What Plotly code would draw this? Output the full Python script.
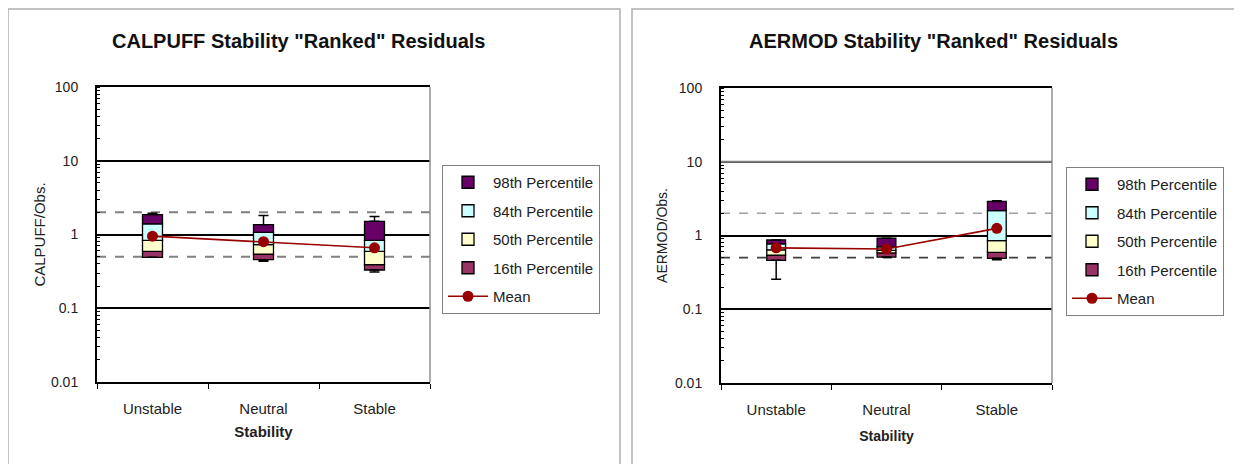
import plotly.graph_objects as go

# ---------------- data ----------------
categories = ["Unstable", "Neutral", "Stable"]

# CALPUFF ranked residual percentiles (ratio model/obs)
calpuff_min = [0.49, 0.435, 0.31]
calpuff_p02 = [0.49, 0.455, 0.33]
calpuff_p16 = [0.59, 0.54, 0.39]
calpuff_p50 = [0.83, 0.73, 0.59]
calpuff_p84 = [1.39, 1.07, 0.83]
calpuff_p98 = [1.86, 1.36, 1.51]
calpuff_max = [1.94, 1.81, 1.75]
calpuff_mean = [0.95, 0.80, 0.66]

# AERMOD ranked residual percentiles
aermod_min = [0.256, 0.51, 0.47]
aermod_p02 = [0.46, 0.51, 0.49]
aermod_p16 = [0.54, 0.58, 0.59]
aermod_p50 = [0.64, 0.63, 0.85]
aermod_p84 = [0.77, 0.70, 2.17]
aermod_p98 = [0.87, 0.92, 2.90]
aermod_max = [0.87, 0.92, 2.95]
aermod_mean = [0.68, 0.655, 1.25]

factor_lines = [2, 0.5]
y_tickvals = [0.01, 0.1, 1, 10, 100]
y_ticktext = ["0.01", "0.1", "1", "10", "100"]

seg_names = ["16th Percentile", "50th Percentile", "84th Percentile", "98th Percentile"]
seg_colors = ["#993366", "#FFFFCC", "#CCFFFF", "#660066"]
seg_rank = [4, 3, 2, 1]

FONT = "Liberation Sans, Arial, sans-serif"
OFF = 8  # page body margin
W, H = 1242 - OFF, 464 - OFF


def px(x):
    return (x - OFF) / W


def py(y):
    return 1 - (y - OFF) / H


fig = go.Figure()


def add_model(xa, ya, legend, key, lo, p16, p50, p84, p98, vmin, vmax, mean, bw):
    edges = [lo, p16, p50, p84, p98]
    for i in range(4):
        low = edges[i]
        up = edges[i + 1]
        fig.add_trace(go.Bar(
            x=categories, base=low, y=[u - l for u, l in zip(up, low)],
            width=bw, name=seg_names[i], legendgroup=key + seg_names[i],
            legendrank=seg_rank[i], legend=legend,
            marker=dict(color=seg_colors[i], line=dict(color="black", width=1.3)),
            xaxis=xa, yaxis=ya, hoverinfo="skip"))
    # whiskers
    fig.add_trace(go.Scatter(
        x=categories, y=p98, mode="markers", marker=dict(size=1, opacity=0),
        error_y=dict(type="data", symmetric=False,
                     array=[m - t for m, t in zip(vmax, p98)],
                     arrayminus=[0] * len(p98), color="black", thickness=1.5, width=5),
        showlegend=False, xaxis=xa, yaxis=ya, hoverinfo="skip"))
    fig.add_trace(go.Scatter(
        x=categories, y=lo, mode="markers", marker=dict(size=1, opacity=0),
        error_y=dict(type="data", symmetric=False, array=[0] * len(lo),
                     arrayminus=[b - m for b, m in zip(lo, vmin)],
                     color="black", thickness=1.5, width=5),
        showlegend=False, xaxis=xa, yaxis=ya, hoverinfo="skip"))
    fig.add_trace(go.Scatter(
        x=categories, y=mean, mode="lines+markers", name="Mean",
        legendgroup=key + "Mean", legendrank=5, legend=legend,
        line=dict(color="#990000", width=1.6),
        marker=dict(color="#990000", size=11),
        xaxis=xa, yaxis=ya))


add_model("x", "y", "legend", "c", calpuff_p02, calpuff_p16, calpuff_p50, calpuff_p84,
          calpuff_p98, calpuff_min, calpuff_max, calpuff_mean, 0.18)
add_model("x2", "y2", "legend2", "a", aermod_p02, aermod_p16, aermod_p50, aermod_p84,
          aermod_p98, aermod_min, aermod_max, aermod_mean, 0.17)

xdom1 = [px(97), px(430)]
xdom2 = [px(721), px(1052)]
ydom1 = [py(382), py(87)]
ydom2 = [py(383), py(88)]

xcommon = dict(type="category", showline=True, linecolor="black", linewidth=2, mirror=True,
               ticks="outside", ticklen=5, tickcolor="black", tickson="boundaries",
               showgrid=False, tickfont=dict(family=FONT, size=15, color="#222"),
               ticklabelstandoff=12, zeroline=False, range=[-0.5, 2.5], automargin=False)
ycommon = dict(type="log", range=[-2, 2], tickvals=y_tickvals, ticktext=y_ticktext,
               showline=True, linecolor="black", linewidth=2, showgrid=True,
               gridcolor="black", gridwidth=2, ticks="", zeroline=False, automargin=False,
               tickfont=dict(family=FONT, size=14, color="#222"), ticklabelstandoff=14,
               minor=dict(ticks="inside", ticklen=3, tickcolor="black", tickwidth=1,
                          dtick="D1", showgrid=False))

legend_common = dict(xanchor="left", yanchor="top", bordercolor="#808080", borderwidth=1,
                     bgcolor="white", font=dict(size=15, family=FONT, color="#222"),
                     traceorder="grouped", tracegroupgap=6, itemwidth=40)

fig.update_layout(
    width=W, height=H, margin=dict(l=0, r=0, t=0, b=0, autoexpand=False),
    paper_bgcolor="white", plot_bgcolor="white",
    barmode="overlay", font=dict(family=FONT, color="#222"),
    xaxis=dict(domain=xdom1, anchor="y",
               title=dict(text="<b>Stability</b>", font=dict(size=15, family=FONT),
                          standoff=10), **xcommon),
    yaxis=dict(domain=ydom1, anchor="x",
               title=dict(text="CALPUFF/Obs.", font=dict(size=15, family=FONT),
                          standoff=2), **ycommon),
    xaxis2=dict(domain=xdom2, anchor="y2",
                title=dict(text="<b>Stability</b>", font=dict(size=14, family=FONT),
                           standoff=14), **xcommon),
    yaxis2=dict(domain=ydom2, anchor="x2",
                title=dict(text="AERMOD/Obs.", font=dict(size=14, family=FONT),
                           standoff=4), **ycommon),
    legend=dict(x=px(442), y=py(165), **legend_common),
    legend2=dict(x=px(1066), y=py(167), **legend_common),
    showlegend=True,
)

shapes = []
# panel frames
for x0, x1 in [(8, 620), (632, 1239)]:
    shapes.append(dict(type="rect", xref="paper", yref="paper", x0=px(x0), x1=px(x1),
                       y0=-0.05, y1=py(9), line=dict(color="#b0b0b0", width=1.5),
                       fillcolor="rgba(0,0,0,0)", layer="below"))
# factor-of-two dashed lines
dash_styles = {
    "y": [("#808080", 2), ("#808080", 2)],
    "y2": [("#a0a0a0", 1.5), ("#404040", 1.8)],
}
for ya, xa in [("y", "x"), ("y2", "x2")]:
    for (col, wdt), v in zip(dash_styles[ya], factor_lines):
        shapes.append(dict(type="line", xref=xa + " domain", yref=ya, x0=0, x1=1, y0=v, y1=v,
                           line=dict(color=col, width=wdt, dash="dash"), layer="below"))
    # right border of plot area in gray
    shapes.append(dict(type="line", xref=xa + " domain", yref=ya + " domain", x0=1, x1=1,
                       y0=0, y1=1, line=dict(color="#909090", width=1.5), layer="above"))
# gray gridline at 10 on AERMOD panel
shapes.append(dict(type="line", xref="x2 domain", yref="y2", x0=0, x1=1, y0=10, y1=10,
                   line=dict(color="#808080", width=2), layer="above"))
fig.update_layout(shapes=shapes)

fig.add_annotation(text="<b>CALPUFF Stability \"Ranked\" Residuals</b>", xref="paper", yref="paper",
                   x=px(298), y=py(41), xanchor="center", yanchor="middle", showarrow=False,
                   font=dict(size=20, family=FONT, color="#111"))
fig.add_annotation(text="<b>AERMOD Stability \"Ranked\" Residuals</b>", xref="paper", yref="paper",
                   x=px(934), y=py(41), xanchor="center", yanchor="middle", showarrow=False,
                   font=dict(size=20, family=FONT, color="#111"))

fig.write_html("out.html")
